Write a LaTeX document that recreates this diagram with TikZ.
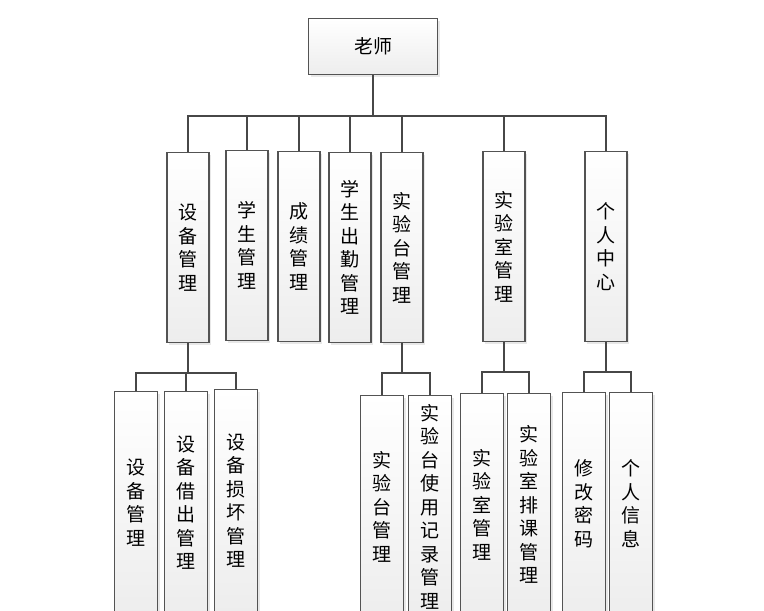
\documentclass[tikz,border=0pt]{standalone}
\usepackage{fontspec}
\usepackage{xcolor}
\usepackage{tikz}
\usetikzlibrary{shadows}
\newfontfamily\cjk{Noto Sans CJK SC}

\begin{document}
\begin{tikzpicture}[x=1pt,y=-1pt]
    % Define styles
    \tikzset{
        module/.style={rectangle, draw=gray!65!black, line width=1.1pt, top color=white, bottom color=gray!14,
            drop shadow={shadow xshift=2pt, shadow yshift=-2pt, fill=gray!35},
            anchor=north, inner sep=0pt, align=center, text=black,
            font=\cjk\fontsize{19}{23.5}\selectfont},
        upper/.style={module, minimum width=42pt, minimum height=190pt},
        lower/.style={module, minimum width=43pt, minimum height=222pt},
        link/.style={draw=black!72, line width=2pt}
    }
    \clip (0,0) rectangle (764,611);
    \fill[white] (0,0) rectangle (764,611);

    % Nodes
    \node[module, minimum width=129pt, minimum height=56pt] (teacher) at (373,18) {老师};

    \node[upper] (equip) at (188,152) {设\\备\\管\\理};
    \node[upper] (student) at (247,150) {学\\生\\管\\理};
    \node[upper] (grade) at (299,151) {成\\绩\\管\\理};
    \node[upper] (attend) at (350,152) {学\\生\\出\\勤\\管\\理};
    \node[upper] (bench) at (402,152) {实\\验\\台\\管\\理};
    \node[upper] (lab) at (504,151) {实\\验\\室\\管\\理};
    \node[upper] (center) at (606,151) {个\\人\\中\\心};

    \node[lower] (equip_manage) at (136,391) {设\\备\\管\\理};
    \node[lower] (equip_lend) at (186,391) {设\\备\\借\\出\\管\\理};
    \node[lower] (equip_damage) at (236,389) {设\\备\\损\\坏\\管\\理};
    \node[lower] (bench_manage) at (382,395) {实\\验\\台\\管\\理};
    \node[lower] (bench_record) at (430,395) {实\\验\\台\\使\\用\\记\\录\\管\\理};
    \node[lower] (lab_manage) at (482,393) {实\\验\\室\\管\\理};
    \node[lower] (lab_schedule) at (529,393) {实\\验\\室\\排\\课\\管\\理};
    \node[lower] (password) at (584,392) {修\\改\\密\\码};
    \node[lower] (profile) at (631,392) {个\\人\\信\\息};

    % Lines
    \foreach \child in {equip, student, grade, attend, bench, lab, center}
        \draw[link] (teacher.south) -- ++(0,41) -| (\child.north);
    \foreach \child in {equip_manage, equip_lend, equip_damage}
        \draw[link] (equip.south) -- ++(0,30) -| (\child.north);
    \foreach \child in {bench_manage, bench_record}
        \draw[link] (bench.south) -- ++(0,30) -| (\child.north);
    \foreach \child in {lab_manage, lab_schedule}
        \draw[link] (lab.south) -- ++(0,30) -| (\child.north);
    \foreach \child in {password, profile}
        \draw[link] (center.south) -- ++(0,30) -| (\child.north);
\end{tikzpicture}
\end{document}
